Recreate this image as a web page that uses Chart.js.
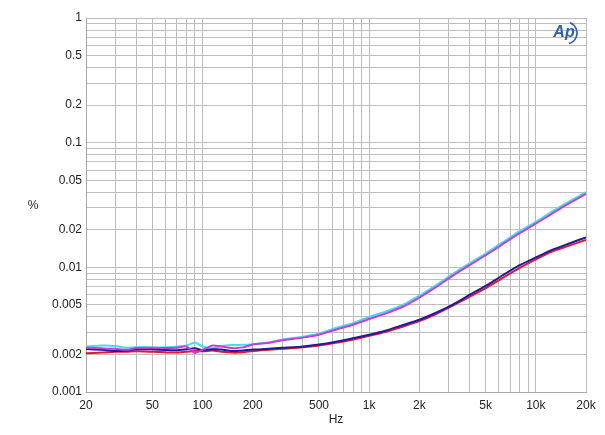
<!DOCTYPE html>
<html>
<head>
<meta charset="utf-8">
<script src="https://cdn.jsdelivr.net/npm/chart.js@4/dist/chart.umd.min.js"></script>
<style>
  html, body { margin: 0; padding: 0; background: #fff; }
  canvas { display: block; }
</style>
</head>
<body>
<canvas id="thdChart" width="605" height="435"></canvas>
<script>
// frequency points (Hz)
const freqs = [20, 25, 30, 35, 40, 50, 60, 70, 80, 90, 100, 115, 130, 150, 175, 200, 250, 300, 400, 500,
  630, 800, 1000, 1250, 1600, 2000, 2500, 3150, 4000, 5000, 6300, 8000, 10000, 12500, 16000, 20000];

// THD+N in %
const cyanVals = [0.00231, 0.00236, 0.00234, 0.00226, 0.00229, 0.00228, 0.00229, 0.00231, 0.00236, 0.00249,
  0.00232, 0.00224, 0.00234, 0.00238, 0.00239, 0.00242, 0.0025, 0.00263, 0.00278, 0.00294,
  0.00326, 0.00357, 0.004, 0.0044, 0.00502, 0.00592, 0.00714, 0.0088, 0.01077, 0.0129,
  0.0158, 0.0195, 0.0232, 0.028, 0.034, 0.0402];
const magentaVals = [0.00226, 0.00224, 0.00222, 0.00218, 0.00225, 0.00226, 0.00225, 0.00226, 0.00232, 0.00206,
  0.00218, 0.00236, 0.00232, 0.00225, 0.00228, 0.0024, 0.00248, 0.0026, 0.00273, 0.00288,
  0.00316, 0.00346, 0.00385, 0.00425, 0.00485, 0.00572, 0.0069, 0.0085, 0.0104, 0.0125,
  0.0153, 0.0188, 0.0224, 0.027, 0.0329, 0.0388];
const blueVals = [0.00221, 0.00218, 0.00213, 0.00215, 0.0022, 0.0022, 0.00217, 0.00216, 0.0022, 0.00224,
  0.00216, 0.0022, 0.00219, 0.00213, 0.00215, 0.00219, 0.00222, 0.00226, 0.00232, 0.0024,
  0.00253, 0.0027, 0.00288, 0.0031, 0.00345, 0.0038, 0.0043, 0.005, 0.006, 0.0071,
  0.0086, 0.0104, 0.012, 0.0138, 0.0156, 0.0174];
const redVals = [0.00205, 0.00207, 0.0021, 0.0021, 0.00212, 0.0021, 0.00208, 0.00207, 0.0021, 0.00214,
  0.00212, 0.00215, 0.0021, 0.00207, 0.00208, 0.00213, 0.00218, 0.00222, 0.00228, 0.00236,
  0.00248, 0.00264, 0.00282, 0.00303, 0.00335, 0.0037, 0.0042, 0.0049, 0.0058, 0.0068,
  0.0082, 0.0099, 0.0116, 0.0134, 0.015, 0.0166];

// labelled ticks
const xTickLabels = [20, 50, 100, 200, 500, 1000, 2000, 5000, 10000, 20000];
const yTickLabels = [0.001, 0.002, 0.005, 0.01, 0.02, 0.05, 0.1, 0.2, 0.5, 1];

// grid lines at 1..9 of every decade
function decadeGrid(lo, hi) {
  const out = [];
  for (let e = Math.floor(Math.log10(lo)); e <= Math.ceil(Math.log10(hi)); e++) {
    for (let m = 1; m <= 9; m++) {
      const v = parseFloat((m * Math.pow(10, e)).toPrecision(6));
      if (v >= lo && v <= hi) out.push(v);
    }
  }
  return out;
}
const xGrid = decadeGrid(20, 20000);
const yGrid = decadeGrid(0.001, 1);

function near(a, b) { return Math.abs(a - b) / b < 1e-6; }
function fmtHz(v) { return v >= 1000 ? (v / 1000) + "k" : String(v); }

const pts = (vals) => freqs.map((f, i) => ({ x: f, y: vals[i] }));

// axis titles + AP logo
const extras = {
  id: "extras",
  afterDraw(chart) {
    const c = chart.ctx;
    c.save();
    c.fillStyle = "#222";
    c.font = "12px 'Liberation Sans', Arial, sans-serif";
    c.textAlign = "center";
    c.textBaseline = "middle";
    c.fillText("%", 33, 206);
    c.fillText("Hz", 336, 420);
    // logo
    c.fillStyle = "#2a5fb4";
    c.font = "italic bold 16px 'Liberation Sans', Arial, sans-serif";
    c.fillText("Ap", 564, 33);
    c.strokeStyle = "#2a5fb4";
    c.lineWidth = 1.6;
    c.beginPath();
    c.arc(566, 33, 11, -1.2, 1.3);
    c.stroke();
    c.restore();
  }
};

const ctx = document.getElementById("thdChart");
new Chart(ctx, {
  type: "line",
  data: {
    datasets: [
      { label: "L magenta", data: pts(magentaVals), borderColor: "#c83cdc" },
      { label: "L blue", data: pts(blueVals), borderColor: "#1c1c9c" },
      { label: "R cyan", data: pts(cyanVals), borderColor: "#3ee0ea" },
      { label: "R red", data: pts(redVals), borderColor: "#e8152e" },
    ],
  },
  options: {
    responsive: false,
    animation: false,
    devicePixelRatio: 1,
    layout: { padding: { left: 0, top: 18, right: 19, bottom: 0 } },
    elements: {
      point: { radius: 0 },
      line: { borderWidth: 2, tension: 0.2, fill: false },
    },
    plugins: { legend: { display: false }, tooltip: { enabled: false } },
    scales: {
      x: {
        type: "logarithmic",
        min: 20,
        max: 20000,
        afterBuildTicks: (s) => { s.ticks = xGrid.map((v) => ({ value: v })); },
        afterFit: (s) => { s.height = 43; },
        grid: { color: "#bdbdbd", lineWidth: 1, drawTicks: false },
        border: { color: "#a8a8a8" },
        ticks: {
          autoSkip: false,
          maxRotation: 0,
          padding: 6,
          color: "#222",
          font: { family: "'Liberation Sans', Arial, sans-serif", size: 12 },
          callback: (v) => (xTickLabels.some((t) => near(v, t)) ? fmtHz(v) : ""),
        },
      },
      y: {
        type: "logarithmic",
        min: 0.001,
        max: 1,
        afterBuildTicks: (s) => { s.ticks = yGrid.map((v) => ({ value: v })); },
        afterFit: (s) => { s.width = 86; },
        grid: { color: "#bdbdbd", lineWidth: 1, drawTicks: false },
        border: { color: "#a8a8a8" },
        ticks: {
          autoSkip: false,
          padding: 4,
          color: "#222",
          font: { family: "'Liberation Sans', Arial, sans-serif", size: 12 },
          callback: (v) => {
            const t = yTickLabels.find((t) => near(v, t));
            return t === undefined ? "" : String(t);
          },
        },
      },
    },
  },
  plugins: [extras],
});
</script>
</body>
</html>
